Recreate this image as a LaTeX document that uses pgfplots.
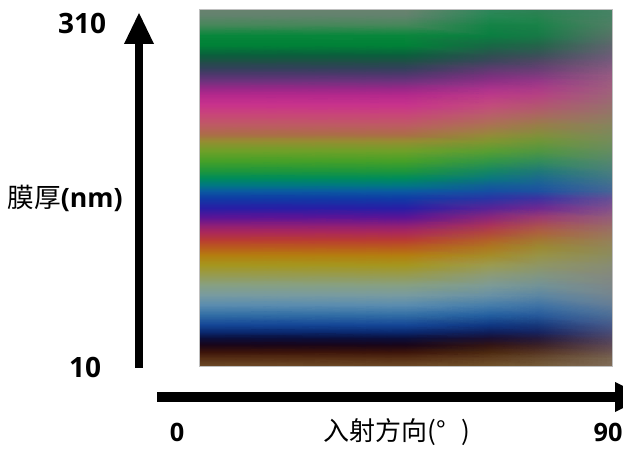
\documentclass[border=0pt]{standalone}
\usepackage{fontspec}
\setmainfont{Noto Sans CJK SC}
\newfontfamily\numfont{Open Sans}
\usepackage{pgfplots}
\usepackage{pgfplotstable}
\pgfplotsset{compat=1.18}
\pgfplotstableread{
x y r g b
0 310 105 130 110
45 310 105 130 110
63.4 310 45 133 90
74 310 45 128 85
90 310 70 130 100
0 305.8 100 130 110
45 305.8 100 130 110
63.4 305.8 40 135 85
74 305.8 40 130 80
90 305.8 70 130 100
0 297.4 70 135 90
45 297.4 70 135 90
63.4 297.4 20 131 70
74 297.4 25 130 72
90 297.4 78 126 100
0 289.0 10 135 60
45 289.0 10 135 60
63.4 289.0 10 127 65
74 289.0 22 122 70
90 289.0 85 115 102
0 280.6 0 130 55
45 280.6 0 130 55
63.4 280.6 22 105 68
74 280.6 35 100 73
90 280.6 94 101 109
0 272.2 10 95 60
45 272.2 10 95 60
63.4 272.2 45 80 80
74 272.2 58 80 88
90 272.2 108 93 119
0 267.1 30 80 70
45 267.1 30 80 70
63.4 267.1 60 70 92
74 267.1 80 70 100
90 267.1 120 90 125
0 261.2 50 65 90
45 261.2 50 65 90
63.4 261.2 90 60 110
74 261.2 100 63 114
90 261.2 135 90 128
0 255.4 80 55 110
45 255.4 80 55 110
63.4 255.4 118 50 124
74 255.4 125 58 126
90 255.4 150 90 130
0 250.3 110 50 125
45 250.3 110 50 125
63.4 250.3 142 47 133
74 250.3 150 55 135
90 250.3 155 92 128
0 244.4 150 40 135
45 244.4 150 40 135
63.4 244.4 170 50 140
74 244.4 170 58 135
90 244.4 160 95 125
0 238.6 180 40 140
45 238.6 180 40 140
63.4 238.6 188 57 137
74 238.6 182 65 130
90 238.6 158 100 120
0 230.2 200 50 140
45 230.2 200 50 140
63.4 230.2 195 74 125
74 230.2 180 83 114
90 230.2 152 110 110
0 221.8 200 70 120
45 221.8 200 70 120
63.4 221.8 185 94 106
74 221.8 170 103 95
90 221.8 145 120 100
0 213.4 190 90 100
45 213.4 190 90 100
63.4 213.4 170 114 82
74 213.4 152 125 72
90 213.4 134 132 92
0 205.0 170 110 70
45 205.0 170 110 70
63.4 205.0 148 138 57
74 205.0 130 143 58
90 205.0 122 138 90
0 199.9 150 140 50
45 199.9 150 140 50
63.4 199.9 128 150 48
74 199.9 110 150 55
90 199.9 115 140 90
0 191.5 110 160 40
45 191.5 110 160 40
63.4 191.5 88 158 50
74 191.5 80 150 65
90 191.5 100 140 97
0 183.1 70 160 40
45 183.1 70 160 40
63.4 183.1 50 150 70
74 183.1 50 140 90
90 183.1 85 135 110
0 174.7 30 150 60
45 174.7 30 150 60
63.4 174.7 20 134 100
74 174.7 30 120 120
90 174.7 73 127 125
0 168.8 0 140 90
45 168.8 0 140 90
63.4 168.8 10 120 125
74 168.8 27 106 140
90 168.8 67 119 135
0 162.9 0 120 130
45 162.9 0 120 130
63.4 162.9 17 95 150
74 162.9 27 92 154
90 162.9 67 109 145
0 157.9 10 90 160
45 157.9 10 90 160
63.4 157.9 22 78 162
74 157.9 30 80 160
90 157.9 70 100 150
0 152.0 15 60 165
45 152.0 15 60 165
63.4 152.0 40 53 164
74 152.0 60 50 160
90 152.0 100 80 150
0 143.6 40 30 165
45 143.6 40 30 165
63.4 143.6 88 35 151
74 143.6 110 40 145
90 143.6 130 80 140
0 136.0 90 20 150
45 136.0 90 20 150
63.4 136.0 138 38 122
74 136.0 155 58 113
90 136.0 148 93 122
0 129.3 140 30 120
45 129.3 140 30 120
63.4 129.3 170 50 90
74 129.3 170 78 82
90 129.3 153 105 106
0 123.4 170 40 90
45 123.4 170 40 90
63.4 123.4 177 70 62
74 123.4 172 97 62
90 123.4 153 116 96
0 116.7 185 60 50
45 116.7 185 60 50
63.4 116.7 178 97 40
74 116.7 163 120 50
90 116.7 149 128 90
0 110.8 185 90 30
45 110.8 185 90 30
63.4 110.8 173 120 32
74 110.8 156 137 50
90 110.8 144 135 90
0 104.1 180 125 15
45 104.1 180 125 15
63.4 104.1 165 140 40
74 104.1 152 147 70
90 104.1 139 140 96
0 95.7 165 150 30
45 95.7 165 150 30
63.4 95.7 155 155 80
74 95.7 143 150 100
90 95.7 135 140 115
0 87.3 150 155 80
45 87.3 150 155 80
63.4 87.3 140 155 120
74 87.3 130 150 128
90 87.3 131 136 127
0 78.9 135 160 130
45 78.9 135 160 130
63.4 78.9 125 155 150
74 78.9 115 147 150
90 78.9 125 135 135
0 70.5 120 155 160
45 70.5 120 155 160
63.4 70.5 105 145 165
74 70.5 93 135 162
90 70.5 116 133 143
0 62.1 90 140 175
45 62.1 90 140 175
63.4 62.1 70 125 170
74 62.1 63 115 165
90 62.1 100 125 150
0 53.7 50 110 165
45 53.7 50 110 165
63.4 53.7 35 95 160
74 53.7 38 90 155
90 53.7 77 110 150
0 45.3 20 70 150
45 45.3 20 70 150
63.4 45.3 15 55 130
74 45.3 22 55 122
90 45.3 70 88 136
0 39.4 10 40 110
45 39.4 10 40 110
63.4 39.4 15 30 90
74 39.4 22 35 95
90 39.4 73 76 118
0 34.4 10 15 60
45 34.4 10 15 60
63.4 34.4 25 15 50
74 34.4 35 25 60
90 34.4 80 70 100
0 28.5 25 5 25
45 28.5 25 5 25
63.4 28.5 50 20 20
74 28.5 58 32 38
90 28.5 94 73 86
0 22.6 60 20 10
45 22.6 60 20 10
63.4 22.6 75 40 15
74 22.6 85 52 35
90 22.6 108 85 80
0 17.6 85 45 20
45 17.6 85 45 20
63.4 17.6 95 60 30
74 17.6 102 73 45
90 17.6 120 100 80
0 10 110 75 40
45 10 110 75 40
63.4 10 115 85 45
74 10 118 93 58
90 10 130 110 90
}\filmdata
\begin{document}
\begin{tikzpicture}
\begin{axis}[at={(0,0)},anchor=south west,scale only axis,
  width=309.75pt,height=267.75pt,
  xmin=0,xmax=90,ymin=10,ymax=310,hide axis,view={0}{90},
  enlargelimits=false]
\addplot3[surf,shader=interp,mesh/cols=5,
  mesh/color input=explicit mathparse,
  mesh/colorspace explicit color input=rgb,
  point meta={symbolic={\thisrow{r}/255,\thisrow{g}/255,\thisrow{b}/255}}]
  table[x=x,y=y,z expr=0]{\filmdata};
\end{axis}
\begin{scope}[x=0.75pt,y=-0.75pt,shift={(-149.25pt,275.25pt)}]
\draw[black!25,line width=0.75pt] (199,10) rectangle (612,367);
% vertical arrow
\fill[black] (135,368) rectangle (143,40);
\fill[black] (124,44) -- (154,44) -- (139,13) -- cycle;
% horizontal arrow
\fill[black] (157,392) rectangle (616,402);
\fill[black] (615,382) -- (615,412) -- (645,397) -- cycle;
% labels
\node[font=\numfont\bfseries\fontsize{21}{21}\selectfont] at (82,23) {310};
\node[font=\numfont\bfseries\fontsize{21}{21}\selectfont] at (85,367) {10};
\node[font=\fontsize{20}{20}\selectfont] at (65,198) {膜厚{\numfont\bfseries (nm)}};
\node[font=\numfont\bfseries\fontsize{19}{19}\selectfont] at (177,432) {0};
\node[font=\fontsize{19.5}{19.5}\selectfont] at (397,432) {入射方向(°\hspace{0.6em})};
\node[font=\numfont\bfseries\fontsize{19}{19}\selectfont] at (608,432) {90};
\pgfresetboundingbox
\path[use as bounding box] (0,0) rectangle (623,452);
\end{scope}
\end{tikzpicture}
\end{document}
